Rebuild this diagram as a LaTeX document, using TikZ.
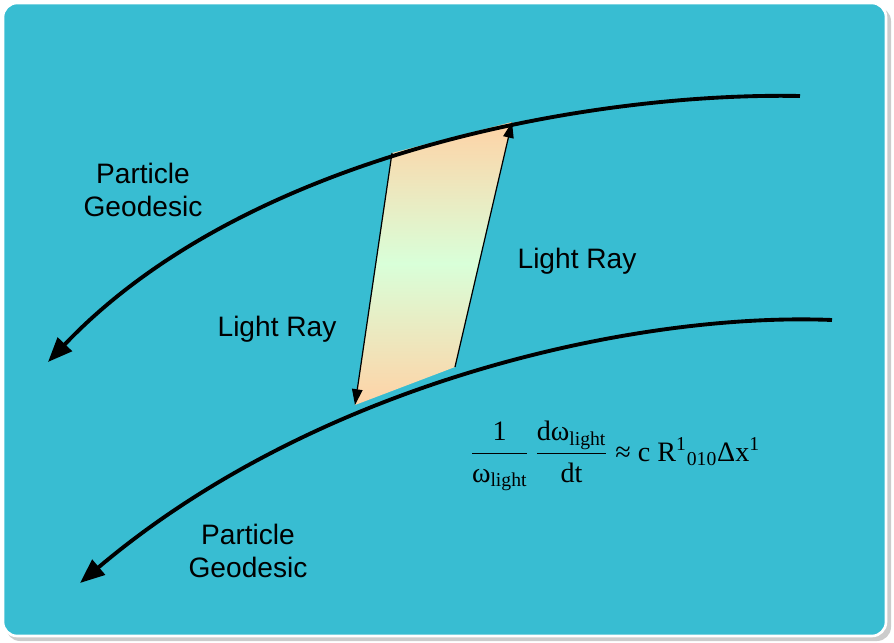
\documentclass[tikz,border=0pt]{standalone}
\usepackage{amsmath}
\usepackage{fontspec}
\setmainfont{Liberation Sans}
\newfontfamily\tnr{Liberation Serif}
\usetikzlibrary{arrows.meta}
\definecolor{bgc}{HTML}{38BDD2}
\tikzset{
  geo/.style={line width=2.2pt,-{Triangle[length=14pt,width=11pt]}},
  ray/.style={line width=0.7pt,-{Triangle[length=9pt,width=6pt]}},
  lbl/.style={font=\fontsize{16}{19}\selectfont,align=center}
}
\begin{document}
\begin{tikzpicture}[x=0.02cm,y=-0.02cm]
\useasboundingbox (0,0) rectangle (894,643);
\fill[gray!40,rounded corners=8pt] (6,7) rectangle (891,641);
\fill[bgc,draw=white,line width=1.5pt,rounded corners=8pt] (3,3) rectangle (886,636);
\coordinate (a) at (392,153);
\coordinate (b) at (512,122);
\coordinate (c) at (455,367);
\coordinate (d) at (355,405);
\shade[top color=orange!35!white,bottom color=orange!35!white,middle color=green!15!white,shading angle=0] (a)--(b)--(c)--(d)--cycle;
\coordinate (u0) at (800,96);
\coordinate (u1) at (48,362);
\coordinate (l0) at (832,320);
\coordinate (l1) at (80,583);
\draw[geo] (u0) .. controls (600,92) and (250,150) .. (u1);
\draw[geo] (l0) .. controls (640,312) and (320,380) .. (l1);
\draw[ray] (a) -- (d);
\draw[ray] (c) -- (b);
\node[lbl] (pg1) at (143,190) {Particle\\Geodesic};
\node[lbl] (pg2) at (248,551) {Particle\\Geodesic};
\node[lbl] (lr1) at (577,261) {Light Ray};
\node[lbl] (lr2) at (277,329) {Light Ray};
\node[font=\fontsize{16}{19}\selectfont] (eq) at (615,456) {$\dfrac{\text{\tnr 1}}{\text{\tnr ω}_{\text{\tnr light}}}\,\dfrac{\text{\tnr dω}_{\text{\tnr light}}}{\text{\tnr dt}}\text{\tnr\ ≈ c R}^{\text{\tnr 1}}{}_{\text{\tnr 010}}\text{\tnr Δx}^{\text{\tnr 1}}$};
\end{tikzpicture}
\end{document}
